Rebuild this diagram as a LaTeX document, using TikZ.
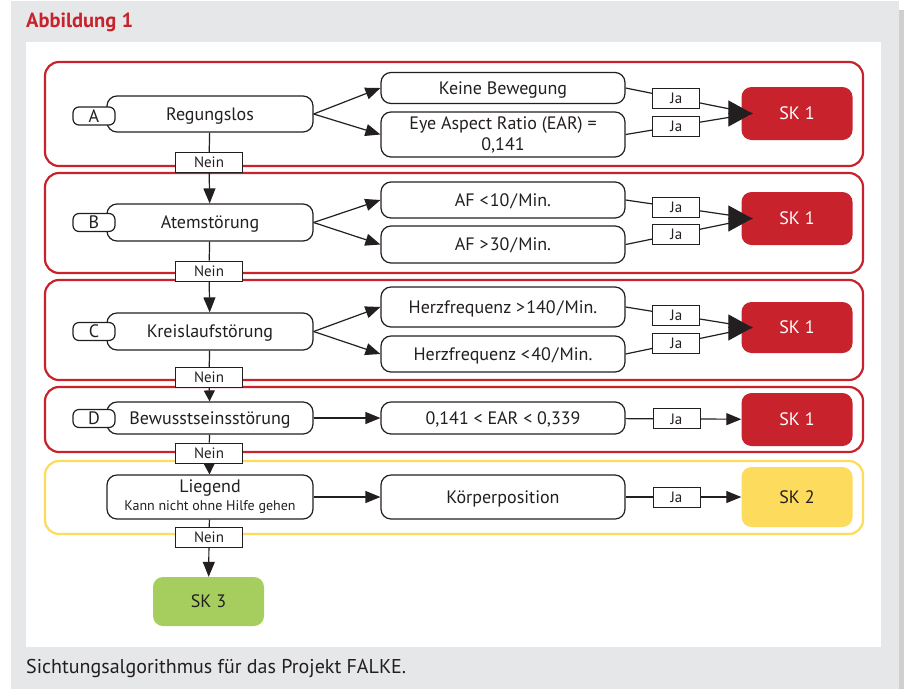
\documentclass[tikz,border=0pt]{standalone}
\usepackage{fontspec}
\setmainfont{PT Sans}
\usetikzlibrary{arrows.meta,positioning}
\definecolor{Panel}{HTML}{E6E7E8}
\definecolor{Shade}{HTML}{CFCFD0}
\definecolor{Ink}{HTML}{231F20}
\definecolor{Alarm}{HTML}{C8232C}
\definecolor{Amber}{HTML}{FDDB5C}
\definecolor{Leaf}{HTML}{A6CE5F}
\newcommand{\tk}{\kern1.2pt}
\tikzset{
  frame/.style={draw=Alarm,line width=2.2pt,rounded corners=14pt},
  crit/.style={draw=Ink,fill=white,rounded corners=10pt,line width=1.2pt,minimum width=206pt,align=center,font=\fontsize{18}{21}\selectfont,text=Ink,inner sep=0pt,text height=14pt,text depth=2pt},
  twoline/.style={text height=,text depth=},
  test/.style={crit,minimum width=244pt},
  tag/.style={draw=Ink,fill=white,rounded corners=6pt,line width=1.2pt,minimum width=42pt,minimum height=18pt,font=\fontsize{18}{21}\selectfont,text=Ink,inner sep=0pt,text height=13pt,text depth=1pt},
  lbl/.style={draw=Ink,fill=white,line width=1pt,minimum height=20pt,inner sep=0pt,font=\fontsize{15}{15}\selectfont,text=Ink},
  ja/.style={lbl,minimum width=47pt},
  nein/.style={lbl,minimum width=67pt},
  sk/.style={rounded corners=10pt,minimum width=111pt,font=\fontsize{18}{18}\selectfont,inner sep=0pt},
  link/.style={draw=Ink,line width=1.2pt},
  arr/.style={link,-{Triangle[length=15pt,width=12pt]}},
  shortarr/.style={link,-{Triangle[length=11pt,width=11pt]}},
  bigarr/.style={draw=Ink,line width=1.2pt,-{Triangle[length=24pt,width=26pt]}}
}
\begin{document}
\begin{tikzpicture}[x=1pt,y=-1pt]
  \useasboundingbox (0,0) rectangle (904,689);
  % panel
  \fill[white] (0,0) rectangle (904,689);
  \fill[Panel] (11,1) rectangle (899,689);
  \fill[Shade] (899,10) rectangle (904,689);
  \fill[white] (26,42) rectangle (881,647);
  \node[anchor=base west,font=\fontsize{20.5}{20.5}\selectfont\bfseries,text=Alarm,inner sep=0pt] (title) at (26,27) {Abbildung 1};
  \node[anchor=base west,font=\fontsize{20}{20}\selectfont,text=Ink,inner sep=0pt] (caption) at (26,673) {Sichtungsalgorithmus für das Projekt FALKE.};

  % frames
  \draw[frame] (45,62) rectangle (863,166);
  \draw[frame] (45,173) rectangle (863,273);
  \draw[frame] (45,280) rectangle (863,380);
  \draw[frame] (45,387) rectangle (863,452);
  \draw[frame,draw=Amber] (45,461) rectangle (863,534);

  % left column
  \node[crit,minimum height=36pt] (A) at (210,114) {Regungslos};
  \node[crit,minimum height=37pt] (B) at (210,222.5) {Atemstörung};
  \node[crit,minimum height=37pt] (C) at (210,331.5) {Kreislaufstörung};
  \node[crit,minimum height=32pt] (D) at (210,418) {Bewusstseinsstörung};
  \node[crit,twoline,minimum height=44pt] (E) at (210,497) {Liegend\\[-3pt]{\fontsize{14}{16}\selectfont Kann nicht ohne Hilfe gehen}};
  \node[tag] (tagA) at (94,116) {A};
  \node[tag] (tagB) at (94,222.5) {B};
  \node[tag] (tagC) at (94,331.5) {C};
  \node[tag] (tagD) at (94,418.5) {D};

  % tests
  \node[test,minimum height=31pt] (A1) at (503,88) {Keine Bewegung};
  \node[test,twoline,minimum height=45pt] (A2) at (503,134.5) {Eye Aspect Ratio (EAR) =\\0,141};
  \node[test,minimum height=36pt] (B1) at (503,200) {AF <\tk10\tk/\tk Min.};
  \node[test,minimum height=37pt] (B2) at (503,244.5) {AF >\tk30\tk/\tk Min.};
  \node[test,minimum height=40pt] (C1) at (503,307) {Herzfrequenz >\tk140\tk/\tk Min.};
  \node[test,minimum height=36pt] (C2) at (503,354) {Herzfrequenz <\tk40\tk/\tk Min.};
  \node[test,minimum height=32pt] (D1) at (503,418) {0,141 < EAR < 0,339};
  \node[test,minimum height=44pt] (E1) at (503,497) {Körperposition};

  % categories
  \node[sk,fill=Alarm,text=white,minimum height=53pt] (skA) at (797,113.5) {SK 1};
  \node[sk,fill=Alarm,text=white,minimum height=53pt] (skB) at (797,218.5) {SK 1};
  \node[sk,fill=Alarm,text=white,minimum height=51pt] (skC) at (797,327.5) {SK 1};
  \node[sk,fill=Alarm,text=white,minimum height=53pt] (skD) at (797,419.5) {SK 1};
  \node[sk,fill=Amber,text=Ink,minimum height=60pt] (skE) at (797,497) {SK 2};
  \node[sk,fill=Leaf,text=Ink,minimum height=49pt] (skF) at (208.5,601.5) {SK 3};

  \node[nein] (nA) at (209,162.5) {Nein};
  \node[nein] (nB) at (209,271) {Nein};
  \node[nein] (nC) at (209,377.5) {Nein};
  \node[nein] (nD) at (209,453) {Nein};
  \node[nein] (nE) at (209,537.5) {Nein};

  \coordinate (tipA) at ([xshift=11pt]skA.west);
  \coordinate (tipB) at ([xshift=11pt]skB.west);
  \coordinate (tipC) at ([xshift=11pt]skC.west);
  \coordinate (baseA) at ([xshift=-13pt]skA.west);
  \coordinate (baseB) at ([xshift=-13pt]skB.west);
  \coordinate (baseC) at ([xshift=-13pt]skC.west);

  % Nein chain
  \draw[link] (A) -- (nA);
  \draw[arr] (nA) -- (B);
  \draw[link] (B) -- (nB);
  \draw[arr] (nB) -- (C);
  \draw[link] (C) -- (nC);
  \draw[shortarr] (nC) -- (D);
  \draw[link] (D) -- (nD);
  \draw[shortarr] (nD) -- (E);
  \draw[link] (E) -- (nE);
  \draw[arr] (nE) -- (skF);

  % branches
  \draw[arr] (A.east) -- (A1.west);
  \draw[arr] (A.east) -- (A2.west);
  \draw[arr] (B.east) -- (B1.west);
  \draw[arr] (B.east) -- (B2.west);
  \draw[arr] (C.east) -- (C1.west);
  \draw[arr] (C.east) -- (C2.west);
  \draw[arr] (D) -- (D1);
  \draw[arr] (E) -- (E1);

  % Ja
  \draw[link] (A1.east) -- node[ja,pos=0.4] {Ja} (tipA);
  \draw[link] (A2.east) -- node[ja,pos=0.4] {Ja} (tipA);
  \draw[bigarr] (baseA) -- (tipA);
  \draw[link] (B1.east) -- node[ja,pos=0.4] {Ja} (tipB);
  \draw[link] (B2.east) -- node[ja,pos=0.4] {Ja} (tipB);
  \draw[bigarr] (baseB) -- (tipB);
  \draw[link] (C1.east) -- node[ja,pos=0.4] {Ja} (tipC);
  \draw[link] (C2.east) -- node[ja,pos=0.4] {Ja} (tipC);
  \draw[bigarr] (baseC) -- (tipC);
  \draw[arr] (D1) -- node[ja,pos=0.44] {Ja} (skD);
  \draw[arr] (E1) -- node[ja,pos=0.44] {Ja} (skE);
\end{tikzpicture}
\end{document}
